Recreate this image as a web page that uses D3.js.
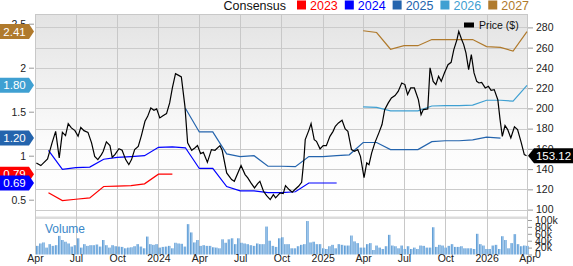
<!DOCTYPE html>
<html>
<head>
<meta charset="utf-8">
<script src="https://cdn.jsdelivr.net/npm/d3@7"></script>
<style>
  body { margin: 0; background: #fff; }
  svg { display: block; font-family: "Liberation Sans", Arial, sans-serif; }
</style>
</head>
<body>
<script>
// consensus EPS by fiscal year, monthly points
let years = ['2023', '2024', '2025', '2026', '2027'];
let yearColors = ['#ff0000', '#0000ff', '#2464ad', '#3fa0d2', '#b07a2c'];

let eps2023 = [['2023-05', 0.58], ['2023-06', 0.49], ['2023-07', 0.505], ['2023-08', 0.52], ['2023-09', 0.65],
  ['2023-10', 0.655], ['2023-11', 0.66], ['2023-12', 0.68], ['2024-01', 0.79], ['2024-02', 0.79]];

let eps2024 = [['2023-05', 1.06], ['2023-06', 0.845], ['2023-07', 0.865], ['2023-08', 0.87], ['2023-09', 0.96],
  ['2023-10', 0.98], ['2023-11', 0.99], ['2023-12', 1.00], ['2024-01', 1.095], ['2024-02', 1.10], ['2024-03', 1.09],
  ['2024-04', 0.855], ['2024-05', 0.855], ['2024-06', 0.65], ['2024-07', 0.60], ['2024-08', 0.60], ['2024-09', 0.58],
  ['2024-10', 0.58], ['2024-11', 0.59], ['2024-12', 0.69], ['2025-01', 0.69], ['2025-02', 0.69]];

let eps2025 = [['2024-03', 1.54], ['2024-04', 1.27], ['2024-05', 1.27], ['2024-06', 1.02], ['2024-07', 0.99],
  ['2024-08', 1.00], ['2024-09', 0.88], ['2024-10', 0.88], ['2024-11', 0.875], ['2024-12', 0.99], ['2025-01', 0.99],
  ['2025-02', 1.00], ['2025-03', 1.01], ['2025-04', 1.15], ['2025-05', 1.15], ['2025-06', 1.07], ['2025-07', 1.07],
  ['2025-08', 1.07], ['2025-09', 1.16], ['2025-10', 1.17], ['2025-11', 1.17], ['2025-12', 1.18], ['2026-01', 1.21],
  ['2026-02', 1.20]];

let eps2026 = [['2025-04', 1.555], ['2025-05', 1.55], ['2025-06', 1.51], ['2025-07', 1.51], ['2025-08', 1.51],
  ['2025-09', 1.565], ['2025-10', 1.57], ['2025-11', 1.57], ['2025-12', 1.575], ['2026-01', 1.63], ['2026-02', 1.63],
  ['2026-03', 1.62], ['2026-04', 1.80]];

let eps2027 = [['2025-04', 2.42], ['2025-05', 2.40], ['2025-06', 2.21], ['2025-07', 2.25], ['2025-08', 2.25],
  ['2025-09', 2.32], ['2025-10', 2.32], ['2025-11', 2.32], ['2025-12', 2.32], ['2026-01', 2.24], ['2026-02', 2.23],
  ['2026-03', 2.19], ['2026-04', 2.41]];

let epsTags = ['0.79', '0.69', '1.20', '1.80', '2.41']; // same order as years

// share price
let price = [
  ['2023-04-04', 146.1], ['2023-04-14', 143.5], ['2023-04-29', 150.1], ['2023-05-09', 165.9], ['2023-05-17', 177.3],
  ['2023-05-25', 151.1], ['2023-06-01', 176.3], ['2023-06-08', 173.1], ['2023-06-14', 184.9], ['2023-06-21', 180.7],
  ['2023-06-29', 178.0], ['2023-07-06', 172.4], ['2023-07-12', 181.3], ['2023-07-19', 178.0], ['2023-07-28', 176.3],
  ['2023-08-05', 165.9], ['2023-08-12', 152.6], ['2023-08-19', 149.4], ['2023-08-27', 154.3], ['2023-08-31', 157.6],
  ['2023-09-07', 166.9], ['2023-09-15', 163.2], ['2023-09-20', 151.7], ['2023-09-26', 154.3], ['2023-10-05', 160.2],
  ['2023-10-12', 158.6], ['2023-10-20', 149.4], ['2023-10-27', 144.4], ['2023-11-02', 149.4], ['2023-11-09', 159.3],
  ['2023-11-17', 162.5], ['2023-11-24', 173.1], ['2023-12-02', 187.2], ['2023-12-08', 192.1], ['2023-12-15', 200.4],
  ['2023-12-22', 198.1], ['2023-12-28', 199.5], ['2024-01-04', 190.6], ['2024-01-11', 192.8], ['2024-01-19', 194.8],
  ['2024-01-26', 205.4], ['2024-02-01', 220.2], ['2024-02-08', 234.3], ['2024-02-15', 232.6], ['2024-02-21', 231.1],
  ['2024-02-29', 202.0], ['2024-03-06', 165.9], ['2024-03-15', 158.6], ['2024-03-22', 160.9], ['2024-03-28', 163.2],
  ['2024-04-04', 155.3], ['2024-04-10', 156.6], ['2024-04-19', 146.7], ['2024-04-28', 159.3], ['2024-05-06', 158.6],
  ['2024-05-17', 163.2], ['2024-05-22', 158.6], ['2024-06-01', 136.2], ['2024-06-12', 129.6], ['2024-06-18', 128.0],
  ['2024-07-03', 143.5], ['2024-07-12', 134.6], ['2024-07-18', 131.3], ['2024-07-25', 126.4], ['2024-08-02', 121.4],
  ['2024-08-09', 125.7], ['2024-08-14', 128.0], ['2024-08-22', 118.1], ['2024-08-29', 113.8], ['2024-09-06', 109.9],
  ['2024-09-13', 114.8], ['2024-09-18', 111.6], ['2024-09-28', 116.5], ['2024-10-05', 115.8], ['2024-10-10', 123.7],
  ['2024-10-18', 119.8], ['2024-10-25', 117.1], ['2024-10-31', 119.8], ['2024-11-08', 123.0], ['2024-11-15', 127.0],
  ['2024-11-20', 149.4], ['2024-11-23', 169.1], ['2024-12-01', 178.3], ['2024-12-06', 184.9], ['2024-12-13', 169.1],
  ['2024-12-18', 167.5], ['2024-12-26', 160.0], ['2025-01-02', 163.2], ['2025-01-09', 163.2], ['2025-01-17', 172.4],
  ['2025-01-24', 177.3], ['2025-01-29', 182.3], ['2025-02-05', 185.6], ['2025-02-13', 188.2], ['2025-02-20', 179.7],
  ['2025-02-26', 177.3], ['2025-03-06', 159.3], ['2025-03-13', 157.6], ['2025-03-20', 159.3], ['2025-03-26', 152.6],
  ['2025-04-03', 131.5], ['2025-04-09', 146.1], ['2025-04-14', 144.4], ['2025-04-20', 156.0], ['2025-04-27', 165.9],
  ['2025-05-06', 175.8], ['2025-05-13', 184.0], ['2025-05-19', 198.8], ['2025-05-27', 205.4], ['2025-06-03', 210.3],
  ['2025-06-11', 212.6], ['2025-06-18', 216.8], ['2025-06-26', 225.1], ['2025-07-03', 223.5], ['2025-07-09', 213.6],
  ['2025-07-16', 220.2], ['2025-07-24', 220.2], ['2025-08-02', 208.6], ['2025-08-08', 193.8], ['2025-08-13', 198.8],
  ['2025-08-23', 199.5], ['2025-08-28', 240.0], ['2025-09-04', 226.7], ['2025-09-10', 223.5], ['2025-09-16', 231.7],
  ['2025-09-22', 226.7], ['2025-09-29', 235.0], ['2025-10-07', 243.2], ['2025-10-14', 245.5], ['2025-10-20', 258.0],
  ['2025-10-27', 267.9], ['2025-10-31', 276.1], ['2025-11-06', 268.6], ['2025-11-11', 263.0], ['2025-11-16', 254.8],
  ['2025-11-22', 238.3], ['2025-11-28', 253.1], ['2025-12-04', 235.0], ['2025-12-10', 226.7], ['2025-12-15', 225.1],
  ['2025-12-21', 225.7], ['2025-12-29', 220.2], ['2026-01-05', 221.8], ['2026-01-11', 217.8], ['2026-01-18', 218.5],
  ['2026-01-26', 208.6], ['2026-01-31', 188.9], ['2026-02-05', 172.4], ['2026-02-11', 183.0], ['2026-02-17', 179.0],
  ['2026-02-24', 170.8], ['2026-03-04', 181.7], ['2026-03-11', 179.0], ['2026-03-19', 166.5], ['2026-03-26', 154.3],
  ['2026-03-31', 153.12]];
let lastPrice = '153.12';

// weekly volume in thousands, weeks starting 2023-04-03
let volumeStart = '2023-04-03';
let volume = [
  25, 32, 35, 20, 30, 25, 27, 54, 42, 37, 32, 23, 27,
  47, 20, 30, 25, 27, 27, 29, 23, 42, 27, 20, 27, 24,
  23, 22, 18, 20, 21, 24, 30, 23, 18, 52, 30, 28, 30,
  20, 22, 23, 25, 18, 34, 32, 31, 23, 88, 64, 35, 42,
  25, 27, 25, 25, 21, 20, 18, 44, 34, 44, 47, 30, 47,
  34, 32, 30, 27, 25, 32, 30, 30, 81, 40, 25, 22, 47,
  50, 30, 30, 18, 18, 24, 28, 30, 97, 35, 37, 30, 30,
  18, 16, 24, 28, 18, 30, 28, 26, 26, 55, 38, 33, 20,
  20, 30, 33, 13, 26, 20, 16, 24, 57, 26, 24, 18, 26,
  16, 24, 16, 20, 16, 26, 25, 20, 20, 79, 22, 28, 26,
  20, 25, 30, 22, 22, 24, 18, 18, 18, 16, 60, 30, 26,
  16, 16, 26, 28, 16, 53, 42, 18, 33, 59, 30, 24, 26, 25];

let priceTicks = [100, 120, 140, 160, 180, 200, 220, 240, 260, 280];
let epsTicks = [0.5, 1, 1.5, 2, 2.5];
let volumeTicks = [0, 20, 40, 60, 80, 100];

let width = 573, height = 266;
let left = 35, right = 528;
let mainTop = 14, mainBottom = 216;
let volTop = 219, volBottom = 254.5;

let parseMonth = d3.timeParse('%Y-%m');
let parseDay = d3.timeParse('%Y-%m-%d');

let x = d3.scaleTime()
  .domain([parseDay('2023-04-01'), parseDay('2026-04-01')])
  .range([left, 527]);
let yPrice = d3.scaleLinear().domain([100, 280]).range([209.6, 27.4]);
let yEps = d3.scaleLinear().domain([0.5, 2.5]).range([199.7, 23.7]);
let yVol = d3.scaleLinear().domain([0, 100]).range([volBottom, 220]);

let svg = d3.select('body').append('svg')
  .attr('width', width)
  .attr('height', height);

let defs = svg.append('defs');
let bg = defs.append('linearGradient').attr('id', 'bg')
  .attr('x1', 0).attr('y1', 0).attr('x2', 0).attr('y2', 1);
bg.append('stop').attr('offset', 0).attr('stop-color', '#e3e3e3');
bg.append('stop').attr('offset', 0.65).attr('stop-color', '#fcfcfc');
bg.append('stop').attr('offset', 1).attr('stop-color', '#ffffff');

let barGrad = defs.append('linearGradient').attr('id', 'bar')
  .attr('x1', 0).attr('y1', 0).attr('x2', 1).attr('y2', 0);
barGrad.append('stop').attr('offset', 0).attr('stop-color', '#3a82c4');
barGrad.append('stop').attr('offset', 0.5).attr('stop-color', '#9cc6ec');
barGrad.append('stop').attr('offset', 1).attr('stop-color', '#5a9ad6');

// panels
svg.append('rect')
  .attr('x', left).attr('y', mainTop)
  .attr('width', right - left).attr('height', mainBottom - mainTop)
  .attr('fill', 'url(#bg)');

svg.append('rect') // separator between price and volume
  .attr('x', left).attr('y', 216.5)
  .attr('width', right - left).attr('height', 2.5)
  .attr('fill', '#dcdcdc');

// grid
let quarters = d3.timeMonth.every(3).range(parseDay('2023-04-01'), parseDay('2026-04-02'));

svg.append('g').selectAll('line')
  .data(priceTicks)
  .join('line')
    .attr('x1', left).attr('x2', right)
    .attr('y1', d => Math.round(yPrice(d)) + 0.5)
    .attr('y2', d => Math.round(yPrice(d)) + 0.5)
    .attr('stroke', '#cbcbcb');

svg.append('g').selectAll('line')
  .data(quarters)
  .join('line')
    .attr('x1', d => Math.round(x(d)) + 0.5)
    .attr('x2', d => Math.round(x(d)) + 0.5)
    .attr('y1', mainTop).attr('y2', volBottom)
    .attr('stroke', '#c8c8c8');

svg.append('line')
  .attr('x1', left).attr('x2', right)
  .attr('y1', mainTop + 0.5).attr('y2', mainTop + 0.5)
  .attr('stroke', '#c8c8c8');

// volume bars
let weekStart = parseDay(volumeStart);
svg.append('g').selectAll('rect')
  .data(volume)
  .join('rect')
    .attr('x', (d, i) => x(d3.timeDay.offset(weekStart, i * 7 + 3)) - 1.2)
    .attr('width', 2.4)
    .attr('y', d => yVol(d))
    .attr('height', d => volBottom - yVol(d))
    .attr('fill', 'url(#bar)');

svg.append('text')
  .attr('x', 45).attr('y', 233)
  .attr('font-size', 12)
  .attr('fill', '#3a87c8')
  .text('Volume');

// consensus lines
let epsSeries = [eps2023, eps2024, eps2025, eps2026, eps2027];
let epsLine = d3.line()
  .x(d => x(parseMonth(d[0])))
  .y(d => yEps(d[1]));

svg.append('g').selectAll('path')
  .data(epsSeries)
  .join('path')
    .attr('d', epsLine)
    .attr('fill', 'none')
    .attr('stroke', (d, i) => yearColors[i])
    .attr('stroke-width', 1.2);

// price line
let priceLine = d3.line()
  .x(d => x(parseDay(d[0])))
  .y(d => yPrice(d[1]));

svg.append('path')
  .datum(price)
  .attr('d', priceLine)
  .attr('fill', 'none')
  .attr('stroke', '#000')
  .attr('stroke-width', 1.2);

// axes
function styleAxis(g) {
  g.select('.domain').remove();
  g.selectAll('.tick line').attr('stroke', '#999');
  g.selectAll('.tick text').attr('fill', '#222');
}

svg.append('g')
  .attr('transform', 'translate(' + right + ',0)')
  .call(d3.axisRight(yPrice).tickValues(priceTicks).tickSize(5).tickPadding(3))
  .attr('font-size', 10.5)
  .attr('font-family', null)
  .call(styleAxis);

svg.append('g')
  .attr('transform', 'translate(34,0)')
  .call(d3.axisLeft(yEps).tickValues(epsTicks).tickSize(5).tickPadding(3).tickFormat(d => d))
  .attr('font-size', 10.5)
  .attr('font-family', null)
  .call(styleAxis);

svg.append('g')
  .attr('transform', 'translate(' + right + ',0)')
  .call(d3.axisRight(yVol).tickValues(volumeTicks).tickSize(4).tickPadding(3)
    .tickFormat(d => d === 0 ? '0' : d + 'k'))
  .attr('font-size', 10.5)
  .attr('font-family', null)
  .call(styleAxis);

let quarterFormat = d => d.getMonth() === 0 ? d3.timeFormat('%Y')(d) : d3.timeFormat('%b')(d);
svg.append('g')
  .attr('transform', 'translate(0,' + volBottom + ')')
  .call(d3.axisBottom(x).tickValues(quarters).tickSize(0).tickPadding(0).tickFormat(quarterFormat))
  .attr('font-size', 10.5)
  .attr('font-family', null)
  .call(styleAxis);

// value tags on the left
function tagPath(w, h, tip) {
  return 'M0,' + (-h / 2) + 'H' + w + 'L' + (w + tip) + ',0L' + w + ',' + (h / 2) + 'H0Z';
}

let tagValues = [eps2023, eps2024, eps2025, eps2026, eps2027].map(s => s[s.length - 1][1]);
let tags = svg.append('g').selectAll('g')
  .data(years)
  .join('g')
    .attr('transform', (d, i) => 'translate(0,' + yEps(tagValues[i]) + ')');

tags.append('path')
  .attr('d', tagPath(29, 15, 5))
  .attr('fill', (d, i) => yearColors[i]);

tags.append('text')
  .attr('x', 14.5).attr('y', 4)
  .attr('text-anchor', 'middle')
  .attr('font-size', 11.5)
  .attr('fill', '#fff')
  .text((d, i) => epsTags[i]);

// price tag on the right
let last = price[price.length - 1];
let pTag = svg.append('g')
  .attr('transform', 'translate(528,' + yPrice(last[1]) + ')');
pTag.append('path')
  .attr('d', 'M0,0L6,-7.5H45V7.5H6Z')
  .attr('fill', '#000');
pTag.append('text')
  .attr('x', 25.5).attr('y', 4)
  .attr('text-anchor', 'middle')
  .attr('font-size', 11.5)
  .attr('fill', '#fff')
  .text(lastPrice);

// price legend inside the plot
svg.append('rect')
  .attr('x', 464).attr('y', 22.5)
  .attr('width', 10).attr('height', 5)
  .attr('fill', '#000');
svg.append('text')
  .attr('x', 479).attr('y', 29)
  .attr('font-size', 10.5)
  .attr('fill', '#111')
  .text('Price ($)');

// consensus legend at the top
svg.append('text')
  .attr('x', 286).attr('y', 9.5)
  .attr('text-anchor', 'end')
  .attr('font-size', 12.5)
  .attr('fill', '#111')
  .text('Consensus');

let lx = 297;
years.forEach(function(yr, i) {
  svg.append('rect')
    .attr('x', lx).attr('y', 0.5)
    .attr('width', 9).attr('height', 9)
    .attr('fill', yearColors[i]);
  let t = svg.append('text')
    .attr('x', lx + 13).attr('y', 9.5)
    .attr('font-size', 12.5)
    .attr('fill', yearColors[i])
    .text(yr);
  lx += 13 + t.node().getComputedTextLength() + 7;
});
</script>
</body>
</html>
